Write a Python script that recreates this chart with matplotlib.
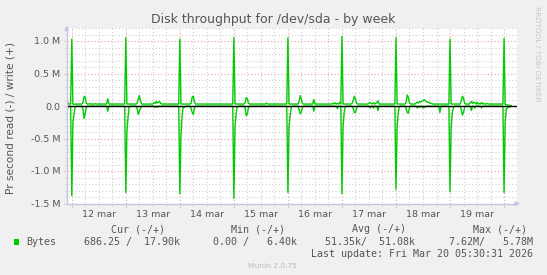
import numpy as np
import pandas as pd
import matplotlib
matplotlib.use("Agg")
import matplotlib.pyplot as plt
from matplotlib.patches import Rectangle

# ---------------- data (kB/s, 30-minute samples) ----------------
write_mar11 = [70, 35, 30, 30]
read_mar11 = [40, 8, 3, 3]

write_mar12 = [1030, 30, 25, 30, 30, 30, 30, 30, 30, 30, 60, 150,
               130, 40, 30, 30, 35, 30, 30, 30, 30, 35, 30, 30,
               30, 30, 30, 30, 30, 30, 30, 35, 110, 30, 30, 30,
               30, 30, 30, 30, 30, 30, 30, 30, 30, 30, 30, 30]
read_mar12 = [1380, 260, 140, 10, 3, 3, 3, 3, 3, 3, 50, 190,
              110, 20, 3, 3, 3, 3, 3, 3, 3, 3, 3, 3,
              3, 3, 3, 3, 3, 3, 3, 3, 80, 3, 3, 3,
              3, 3, 3, 3, 3, 3, 3, 3, 3, 3, 3, 3]

write_mar13 = [1050, 30, 30, 30, 30, 30, 30, 30, 30, 30, 40, 100,
               160, 90, 30, 30, 30, 30, 30, 30, 30, 30, 30, 30,
               30, 50, 40, 70, 45, 60, 70, 40, 30, 30, 30, 30,
               30, 30, 30, 30, 30, 30, 30, 30, 30, 30, 30, 30]
read_mar13 = [1330, 400, 170, 10, 3, 3, 3, 3, 3, 3, 30, 130,
              80, 40, 3, 3, 3, 3, 3, 3, 3, 3, 3, 3,
              3, 3, 20, 3, 20, 3, 3, 3, 3, 3, 3, 3,
              3, 3, 3, 3, 3, 3, 3, 3, 3, 3, 3, 3]

write_mar14 = [1030, 30, 30, 30, 30, 30, 30, 30, 30, 30, 40, 140,
               150, 60, 30, 30, 30, 30, 30, 30, 30, 30, 30, 30,
               30, 30, 30, 30, 30, 30, 30, 30, 30, 30, 30, 30,
               30, 30, 30, 30, 30, 30, 30, 30, 30, 30, 30, 30]
read_mar14 = [1350, 450, 150, 10, 20, 3, 3, 3, 3, 3, 40, 100,
              130, 30, 3, 3, 3, 3, 3, 3, 3, 3, 3, 3,
              3, 3, 3, 3, 3, 3, 3, 3, 3, 3, 3, 3,
              3, 3, 3, 3, 3, 3, 3, 3, 3, 3, 3, 3]

write_mar15 = [1050, 30, 30, 30, 30, 30, 30, 30, 30, 30, 50, 130,
               110, 40, 30, 30, 30, 30, 30, 30, 30, 30, 30, 30,
               30, 30, 30, 30, 30, 45, 30, 30, 30, 30, 30, 30,
               30, 30, 30, 30, 30, 30, 30, 30, 30, 30, 30, 30]
read_mar15 = [1420, 320, 120, 10, 3, 3, 3, 3, 3, 3, 30, 150,
              120, 20, 3, 3, 3, 3, 3, 3, 3, 3, 3, 3,
              3, 3, 3, 3, 3, 3, 3, 3, 3, 3, 3, 3,
              3, 3, 3, 3, 3, 3, 3, 3, 3, 3, 3, 3]

write_mar16 = [1050, 30, 30, 30, 30, 30, 30, 30, 30, 30, 80, 160,
               100, 35, 30, 30, 30, 30, 30, 30, 30, 30, 30, 100,
               30, 30, 30, 30, 30, 30, 30, 30, 30, 30, 30, 30,
               30, 30, 30, 30, 45, 30, 50, 30, 40, 30, 55, 30]
read_mar16 = [1330, 320, 150, 10, 3, 3, 3, 3, 3, 3, 60, 120,
              90, 20, 3, 3, 3, 3, 3, 3, 3, 3, 3, 80,
              3, 3, 3, 3, 3, 3, 3, 3, 3, 3, 3, 3,
              3, 3, 3, 3, 3, 3, 3, 3, 40, 3, 3, 3]

write_mar17 = [1070, 30, 30, 30, 30, 30, 30, 30, 30, 40, 80, 150,
               110, 40, 30, 30, 30, 30, 30, 30, 30, 30, 30, 30,
               45, 55, 40, 30, 50, 30, 40, 50, 80, 30, 30, 30,
               30, 30, 30, 30, 30, 30, 30, 30, 30, 30, 30, 30]
read_mar17 = [1350, 320, 100, 10, 3, 3, 3, 3, 3, 3, 40, 100,
              100, 30, 3, 3, 3, 3, 3, 3, 3, 3, 3, 3,
              3, 30, 3, 3, 30, 3, 3, 3, 70, 3, 3, 3,
              3, 3, 3, 3, 3, 3, 3, 3, 3, 3, 3, 3]

write_mar18 = [1050, 30, 30, 30, 30, 30, 30, 30, 30, 60, 170, 130,
               50, 30, 30, 30, 30, 30, 50, 60, 45, 70, 60, 75,
               80, 100, 80, 70, 55, 60, 45, 40, 35, 30, 30, 30,
               30, 30, 30, 30, 30, 30, 30, 30, 30, 30, 30, 30]
read_mar18 = [1280, 330, 100, 10, 3, 3, 3, 3, 3, 40, 100, 110,
              30, 3, 3, 3, 3, 3, 3, 30, 3, 20, 3, 3,
              30, 3, 20, 3, 3, 3, 3, 3, 3, 3, 3, 3,
              3, 3, 3, 100, 3, 3, 3, 3, 3, 3, 3, 3]

write_mar19 = [1030, 30, 30, 30, 30, 30, 30, 30, 30, 30, 80, 150,
               120, 40, 30, 30, 30, 30, 50, 70, 40, 60, 50, 30,
               60, 30, 40, 30, 55, 30, 40, 30, 30, 40, 30, 30,
               30, 30, 30, 30, 30, 30, 30, 30, 30, 30, 30, 30]
read_mar19 = [1320, 340, 100, 30, 3, 3, 3, 3, 3, 3, 50, 140,
              100, 20, 3, 3, 3, 3, 3, 70, 3, 3, 30, 3,
              3, 3, 3, 3, 30, 3, 3, 3, 3, 3, 3, 3,
              3, 3, 3, 3, 3, 3, 3, 3, 3, 3, 3, 3]

write_mar20 = [1040, 20, 20, 15, 10, 10, 5]
read_mar20 = [1330, 260, 40, 30, 20, 10, 5]

day_labels = ["12 mar", "13 mar", "14 mar", "15 mar", "16 mar", "17 mar", "18 mar", "19 mar"]
y_tick_values = [-1.5e6, -1.0e6, -0.5e6, 0.0, 0.5e6, 1.0e6]
y_tick_labels = ["-1.5 M", "-1.0 M", "-0.5 M", "0.0", "0.5 M", "1.0 M"]

legend_headers = ["Cur (-/+)", "Min (-/+)", "Avg (-/+)", "Max (-/+)"]
legend_values = ["686.25 /  17.90k", "0.00 /   6.40k", "51.35k/  51.08k", "7.62M/   5.78M"]

# ---------------- assemble ----------------
write_kB = (write_mar11 + write_mar12 + write_mar13 + write_mar14 + write_mar15 +
            write_mar16 + write_mar17 + write_mar18 + write_mar19 + write_mar20)
read_kB = (read_mar11 + read_mar12 + read_mar13 + read_mar14 + read_mar15 +
           read_mar16 + read_mar17 + read_mar18 + read_mar19 + read_mar20)
times = pd.date_range("2026-03-11 22:00", periods=len(write_kB), freq="30min")
write_B = np.array(write_kB, dtype=float) * 1000.0
read_B = -np.array(read_kB, dtype=float) * 1000.0

W, H = 547, 275
fig = plt.figure(figsize=(W / 100, H / 100), dpi=100, facecolor="#F0F0F0")
L, R, T, B = 66.7, 517.0, 28.0, 203.5
ax = fig.add_axes([L / W, 1 - B / H, (R - L) / W, (B - T) / H])
ax.set_facecolor("white")

x0 = pd.Timestamp("2026-03-11 21:45")
x1 = pd.Timestamp("2026-03-20 05:45")
ax.set_xlim(x0, x1)
ax.set_ylim(-1.5e6, 1.2e6)

TEXT = "#555555"
MINOR = "#CFCFCF"
MAJOR = "#E6A0A0"
AXC = "#C4C4E4"
ext = 3.0 / (B - T)  # grid extension below the axis
extx = 3.0 / (R - L)

# vertical grid: 6-hour minor, midnight major
for t in pd.date_range("2026-03-12 00:00", "2026-03-20 05:00", freq="6h"):
    if t.hour == 0:
        ax.axvline(t, ymin=-ext, ymax=1, color=MAJOR, lw=0.8, ls=(0, (1, 2)), clip_on=False, zorder=1)
    else:
        ax.axvline(t, ymin=-ext * 0.7, ymax=1, color=MINOR, lw=0.8, ls=(0, (1, 2)), clip_on=False, zorder=1)
# horizontal grid: 0.1M minor, 0.5M major
for k in range(-15, 13):
    yv = k * 1e5
    if k % 5 == 0:
        ax.axhline(yv, xmin=-extx, xmax=1, color=MAJOR, lw=0.8, ls=(0, (1, 2)), clip_on=False, zorder=1)
    else:
        ax.axhline(yv, xmin=-extx * 0.7, xmax=1, color=MINOR, lw=0.8, ls=(0, (1, 2)), clip_on=False, zorder=1)

ax.plot(times, write_B, color="#00CC00", lw=1.0, zorder=3)
ax.plot(times, read_B, color="#00CC00", lw=1.0, zorder=3)
ax.axhline(0, color="black", lw=1.0, zorder=4)

for s in ["top", "right"]:
    ax.spines[s].set_visible(False)
for s in ["left", "bottom"]:
    ax.spines[s].set_color(AXC)
    ax.spines[s].set_linewidth(1.0)
    ax.spines[s].set_zorder(5)
ax.annotate("", xy=(1.013, 0), xytext=(0.99, 0), xycoords="axes fraction",
            arrowprops=dict(arrowstyle="-|>", color=AXC, lw=1.0, mutation_scale=6))
ax.annotate("", xy=(0, 1.03), xytext=(0, 0.98), xycoords="axes fraction",
            arrowprops=dict(arrowstyle="-|>", color=AXC, lw=1.0, mutation_scale=6))

noon = pd.date_range("2026-03-12 12:00", periods=len(day_labels), freq="D")
ax.set_xticks(noon)
ax.set_xticklabels(day_labels)
ax.set_yticks(y_tick_values)
ax.set_yticklabels(y_tick_labels)
ax.tick_params(axis="x", length=0, pad=4.5, labelsize=6.8, labelcolor=TEXT)
ax.tick_params(axis="y", length=0, pad=4.6, labelsize=6.8, labelcolor=TEXT)
for lbl in ax.get_xticklabels() + ax.get_yticklabels():
    lbl.set_family("DejaVu Sans")

def px(x, y):
    return x / W, 1 - y / H

fig.text(*px(273.5, 19.5), "Disk throughput for /dev/sda - by week", ha="center", va="center",
         fontsize=9, color=TEXT, family="DejaVu Sans")
fig.text(*px(11, 117.5), "Pr second read (-) / write (+)", ha="center", va="center",
         rotation=90, fontsize=7.6, color=TEXT, family="DejaVu Sans")
fig.text(*px(537.5, 53.4), "RRDTOOL / TOBI OETIKER", ha="center", va="center",
         rotation=270, fontsize=5.4, color="#C8C8C8", family="DejaVu Sans")

mono = "DejaVu Sans Mono"
header_x = [110.9, 231.3, 352.3, 472.6]
for hx, htxt in zip(header_x, legend_headers):
    fig.text(*px(hx, 229), htxt, ha="left", va="center", fontsize=7.2, color=TEXT, family=mono)
value_end = [179.6, 297.2, 415.1, 533.0]
for vx, vtxt in zip(value_end, legend_values):
    fig.text(*px(vx, 241.9), vtxt, ha="right", va="center", fontsize=7.2, color=TEXT, family=mono)
fig.add_artist(Rectangle(px(14, 244.5), 5.2 / W, 5.2 / H, transform=fig.transFigure,
                         facecolor="#00CC00", edgecolor="none"))
fig.text(*px(26.2, 241.9), "Bytes", ha="left", va="center", fontsize=7.2, color=TEXT, family=mono)
fig.text(*px(533, 254), "Last update: Fri Mar 20 05:30:31 2026", ha="right", va="center",
         fontsize=7.2, color=TEXT, family=mono)
fig.text(*px(272.8, 266.3), "Munin 2.0.75", ha="center", va="center", fontsize=5.4,
         color="#BBBBBB", family="DejaVu Sans")

fig.savefig("out.png", dpi=100, facecolor=fig.get_facecolor())
